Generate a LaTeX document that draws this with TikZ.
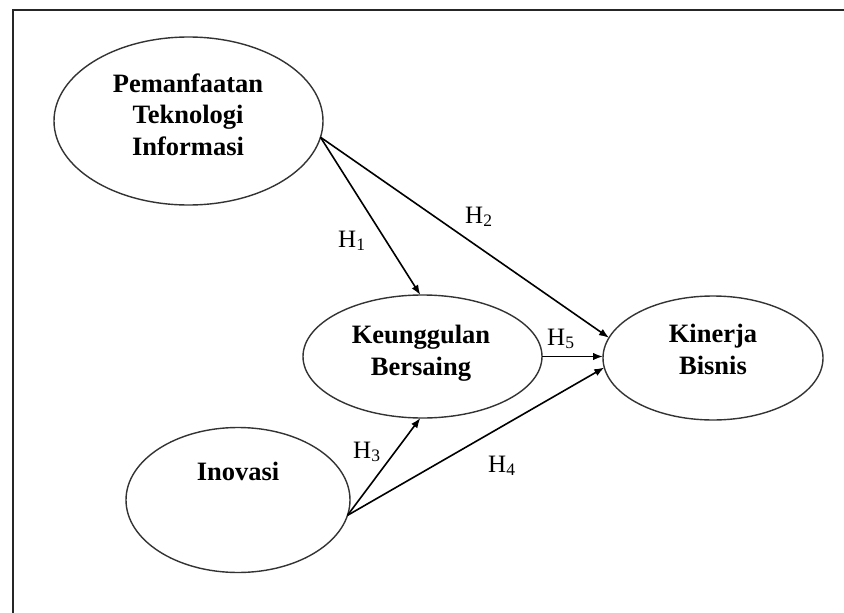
\documentclass[tikz,border=0pt]{standalone}
\usepackage{fontspec}
\setmainfont{Liberation Serif}
\usetikzlibrary{shapes.geometric,arrows.meta}
\begin{document}
\begin{tikzpicture}[x=1pt,y=-1pt,
  latent/.style={draw=black!80, line width=1.4pt, shape=ellipse, inner sep=0pt, outer sep=0pt},
  ltext/.style={font=\fontsize{26.5}{31.5}\selectfont\bfseries, align=center, anchor=base, inner sep=0pt},
  hyp/.style={font=\fontsize{25}{30}\selectfont, anchor=base west, inner sep=0pt},
  path/.style={draw=black, line width=1.6pt, -{Latex[length=10pt,width=7.5pt]}},
  frameline/.style={draw=black!85, line width=2pt}]
\useasboundingbox (0,0) rectangle (844,613);
\fill[white] (0,0) rectangle (844,613);
\coordinate (fb) at (12.5,613);
\coordinate (fc) at (12.5,9.5);
\coordinate (fr) at (844,9.5);
\draw[frameline] (fb) -- (fc) -- (fr);
% latent variables
\node[latent, minimum width=269pt, minimum height=168pt] (P) at (188.5,121) {};
\node[latent, minimum width=239pt, minimum height=123pt] (K) at (422.5,356.5) {};
\node[latent, minimum width=220pt, minimum height=124pt] (B) at (713,358) {};
\node[latent, minimum width=224pt, minimum height=145pt] (I) at (238,500) {};
% texts (anchored at the baseline of the last line)
\node[ltext] (Pt) at (188,155) {Pemanfaatan\\Teknologi\\Informasi};
\node[ltext] (Kt) at (421,375) {Keunggulan\\Bersaing};
\node[ltext] (Bt) at (713,374) {Kinerja\\Bisnis};
\node[ltext] (It) at (238,480) {Inovasi};
% paths
\draw[path] (P.-7.6) -- (K.92);
\draw[path] (P.-7.6) -- (B.169);
\draw[path] (K.east) -- (K.east -| B.west);
\draw[path] (I.-8.6) -- (K.-92);
\draw[path] (I.-8.6) -- (B.-175);
% hypothesis labels
\node[hyp] (h1) at (338,247) {H\textsubscript{1}};
\node[hyp] (h2) at (465,223) {H\textsubscript{2}};
\node[hyp] (h5) at (547,345) {H\textsubscript{5}};
\node[hyp] (h3) at (353,458) {H\textsubscript{3}};
\node[hyp] (h4) at (488,472) {H\textsubscript{4}};
\end{tikzpicture}
\end{document}
